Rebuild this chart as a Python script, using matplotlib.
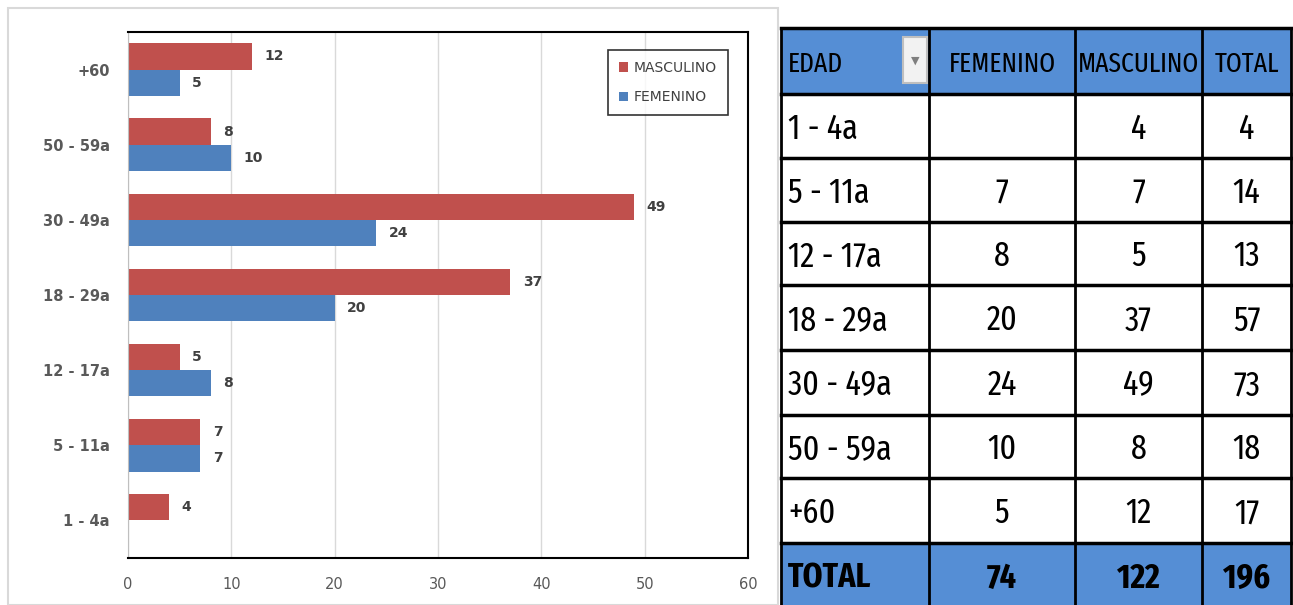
import matplotlib.pyplot as plt
from matplotlib.patches import Rectangle
from matplotlib import font_manager
import numpy as np

# data
categories = ["1 - 4a", "5 - 11a", "12 - 17a", "18 - 29a", "30 - 49a", "50 - 59a", "+60"]
femenino = [0, 7, 8, 20, 24, 10, 5]
masculino = [4, 7, 5, 37, 49, 8, 12]
table_rows = ["1 - 4a", "5 - 11a", "12 - 17a", "18 - 29a", "30 - 49a", "50 - 59a", "+60"]
table_fem = ["", "7", "8", "20", "24", "10", "5"]
table_mas = ["4", "7", "5", "37", "49", "8", "12"]
table_tot = ["4", "14", "13", "57", "73", "18", "17"]
headers = ["EDAD", "FEMENINO", "MASCULINO", "TOTAL"]
totals = ["TOTAL", "74", "122", "196"]

RED = "#C0504D"
BLUE = "#4F81BD"
HEAD = "#558ED5"
W, H = 1293, 605

# pick the narrowest face installed for the table text
def rank(path):
    n = path.lower().replace("-", "").replace("_", "").replace(" ", "")
    if "italic" in n or "oblique" in n:
        return None
    if "extracondensed" in n or "ultracondensed" in n:
        r = 0
    elif "semicondensed" in n:
        r = 3
    elif "condensed" in n:
        r = 1
    elif "narrow" in n:
        r = 2
    else:
        return None
    for bad in ["thin", "light", "medium", "black", "semibold", "extrabold", "demi", "heavy"]:
        if bad in n:
            return None
    return r, ("bold" if "bold" in n else "normal")

narrow = {}
for f in font_manager.fontManager.ttflist:
    res = rank(f.fname)
    if res is None:
        continue
    r, w = res
    if w not in narrow or r < narrow[w][0]:
        narrow[w] = (r, f.fname)

def tprop(bold, size):
    key = "bold" if bold else "normal"
    if key in narrow:
        return font_manager.FontProperties(fname=narrow[key][1], size=size)
    if narrow:
        return font_manager.FontProperties(fname=list(narrow.values())[0][1], size=size,
                                           weight=key)
    return font_manager.FontProperties(family="DejaVu Sans", weight=key, size=size)

fig = plt.figure(figsize=(W / 100, H / 100), dpi=100)
fig.patch.set_facecolor("white")

# outer chart frame
fig.patches.append(Rectangle((8 / W, 0), 770 / W, 597 / H, transform=fig.transFigure,
                             fill=False, edgecolor="#D9D9D9", lw=1.5))

ax = fig.add_axes([128 / W, (H - 558) / H, 620 / W, 526 / H])
y = np.arange(len(categories))
bh = 0.35
rm = ax.barh(y + bh / 2, masculino, height=bh, color=RED, label="MASCULINO")
fm = ax.barh(y - bh / 2, femenino, height=bh, color=BLUE, label="FEMENINO")
for i in range(len(categories)):
    ax.annotate(str(masculino[i]), (masculino[i], y[i] + bh / 2), xytext=(9, 0),
                textcoords="offset points", va="center", ha="left",
                fontsize=10, fontweight="bold", color="#404040")
    if femenino[i] > 0:
        ax.annotate(str(femenino[i]), (femenino[i], y[i] - bh / 2), xytext=(9, 0),
                    textcoords="offset points", va="center", ha="left",
                    fontsize=10, fontweight="bold", color="#404040")

ax.set_xlim(0, 60)
ax.set_ylim(-0.5, len(categories) - 0.5)
ax.set_xticks(range(0, 61, 10))
ax.set_yticks(y)
ax.set_yticklabels(categories, fontweight="bold", color="#595959", fontsize=10.5)
ax.tick_params(axis="x", colors="#595959", labelsize=10.5, length=0, pad=14)
ax.tick_params(axis="y", length=0, pad=13)
ax.grid(axis="x", color="#D9D9D9", lw=1)
ax.set_axisbelow(True)
for s in ["top", "right", "bottom"]:
    ax.spines[s].set_color("black")
    ax.spines[s].set_linewidth(1.5)
ax.spines["left"].set_color("#BFBFBF")

leg = ax.legend([rm, fm], ["MASCULINO", "FEMENINO"], loc="upper right",
                bbox_to_anchor=(0.968, 0.966), borderaxespad=0, frameon=True,
                fancybox=False, edgecolor="black", fontsize=10, handlelength=0.7,
                handleheight=0.7, labelspacing=1.1, borderpad=0.8, handletextpad=0.4)
leg.get_frame().set_linewidth(1.2)
for t in leg.get_texts():
    t.set_color("#404040")

# table
tax = fig.add_axes([0, 0, 1, 1])
tax.set_xlim(0, W)
tax.set_ylim(H, 0)
tax.axis("off")
tax.patch.set_alpha(0)

col_x = [781, 929, 1075, 1202, 1291]
row_y = [28, 94, 158, 222, 285, 350, 415, 478, 543, 608]

for r in range(len(row_y) - 1):
    y0, y1 = row_y[r], row_y[r + 1]
    fc = HEAD if r in (0, len(row_y) - 2) else "white"
    tax.add_patch(Rectangle((col_x[0], y0), col_x[-1] - col_x[0], y1 - y0,
                            facecolor=fc, edgecolor="none"))

for xx in col_x:
    tax.plot([xx, xx], [row_y[0], H], color="black", lw=2)
for yy in row_y[:-1]:
    tax.plot([col_x[0], col_x[-1]], [yy, yy], color="black", lw=2.5)

# dropdown button
tax.add_patch(Rectangle((903, 37), 24, 46, facecolor="#F2F2F2", edgecolor="#BFBFBF", lw=1.5))
tax.text(915, 61, "▼", ha="center", va="center", fontsize=8, color="#7F7F7F")

# header size chosen so "MASCULINO" spans about 120 px, as in the reference
renderer = fig.canvas.get_renderer()
probe = tax.text(0, 0, "MASCULINO", fontproperties=tprop(False, 30))
pw = probe.get_window_extent(renderer).width
probe.remove()
hsize = min(30, 30 * 121 / pw)
bsize = hsize * 1.25

def cell(r, c, txt, size, bold=False):
    yc = (row_y[r] + row_y[r + 1]) / 2 + 3
    fp = tprop(bold, size)
    if c == 0:
        tax.text(col_x[0] + 7, yc, txt, ha="left", va="center", fontproperties=fp)
    else:
        xc = (col_x[c] + col_x[c + 1]) / 2
        tax.text(xc, yc, txt, ha="center", va="center", fontproperties=fp)

for c, h in enumerate(headers):
    cell(0, c, h, hsize)
for i in range(len(table_rows)):
    cell(i + 1, 0, table_rows[i], bsize)
    cell(i + 1, 1, table_fem[i], bsize)
    cell(i + 1, 2, table_mas[i], bsize)
    cell(i + 1, 3, table_tot[i], bsize)
for c, t in enumerate(totals):
    cell(len(row_y) - 2, c, t, bsize, bold=True)

fig.savefig("out.png", dpi=100)
